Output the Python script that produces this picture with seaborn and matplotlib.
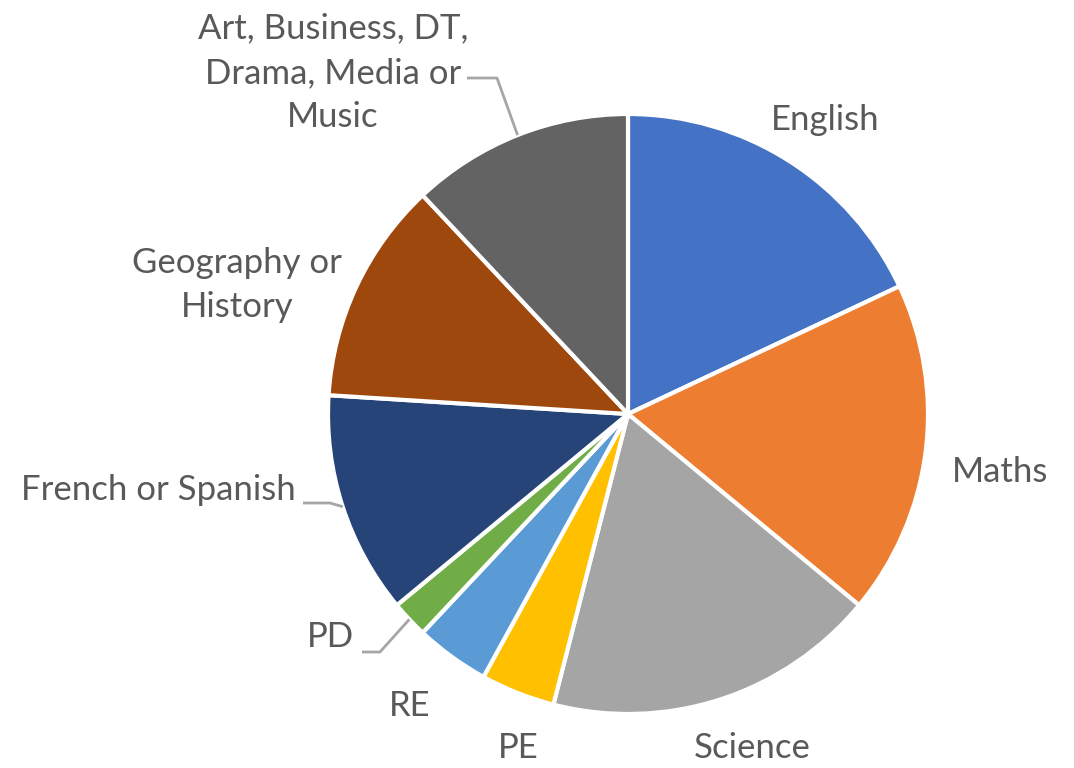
import matplotlib.pyplot as plt
import numpy as np
import seaborn as sns

# Subjects, clockwise from 12 o'clock
SUBJECTS = [
    "English", "Maths", "Science", "PE", "RE", "PD",
    "French or Spanish", "Geography or\nHistory",
    "Art, Business, DT,\nDrama, Media or\nMusic",
]
LESSONS = [9, 9, 9, 2, 2, 1, 6, 6, 6]
COLORS = ["#4472C4", "#ED7D31", "#A5A5A5", "#FFC000", "#5B9BD5",
          "#70AD47", "#264478", "#9E480E", "#636363"]

# layout (pixel space, y down): label centres and which ones get a leader line
LABEL_XY = [(825, 120), (1000, 472), (752, 748), (518, 748), (410, 706),
            (330, 637), (158, 490), (237, 285), (333, 73)]
LEADER_ELBOW = {5: (362, 380, 652), 6: (303, 330, 503), 8: (467, 497, 78)}

W, H = 1074, 768
CX, CY, R = 628, 768 - 414, 300
TEXT_COLOR = "#595959"

sns.set_theme(style="white")
plt.rcParams["font.family"] = ["Lato", "DejaVu Sans"]

fig = plt.figure(figsize=(W / 100, H / 100), dpi=100)
ax = fig.add_axes([0, 0, 1, 1])

wedges, _ = ax.pie(
    LESSONS, colors=COLORS, startangle=90, counterclock=False,
    center=(CX, CY), radius=R,
    wedgeprops={"edgecolor": "white", "linewidth": 3},
)
ax.set_xlim(0, W)
ax.set_ylim(0, H)
ax.set_aspect("equal")
ax.axis("off")

for i, (w, label) in enumerate(zip(wedges, SUBJECTS)):
    lx, ly = LABEL_XY[i]
    ax.text(lx, H - ly, label, ha="center", va="center", fontsize=25,
            color=TEXT_COLOR, linespacing=1.48)
    if i in LEADER_ELBOW:
        x0, x1, yl = LEADER_ELBOW[i]
        mid = np.deg2rad((w.theta1 + w.theta2) / 2)
        ex, ey = CX + R * np.cos(mid), CY + R * np.sin(mid)
        ax.plot([x0, x1, ex], [H - yl, H - yl, ey], color="#A6A6A6",
                lw=2, solid_capstyle="butt")

fig.savefig("out.png", dpi=100)
